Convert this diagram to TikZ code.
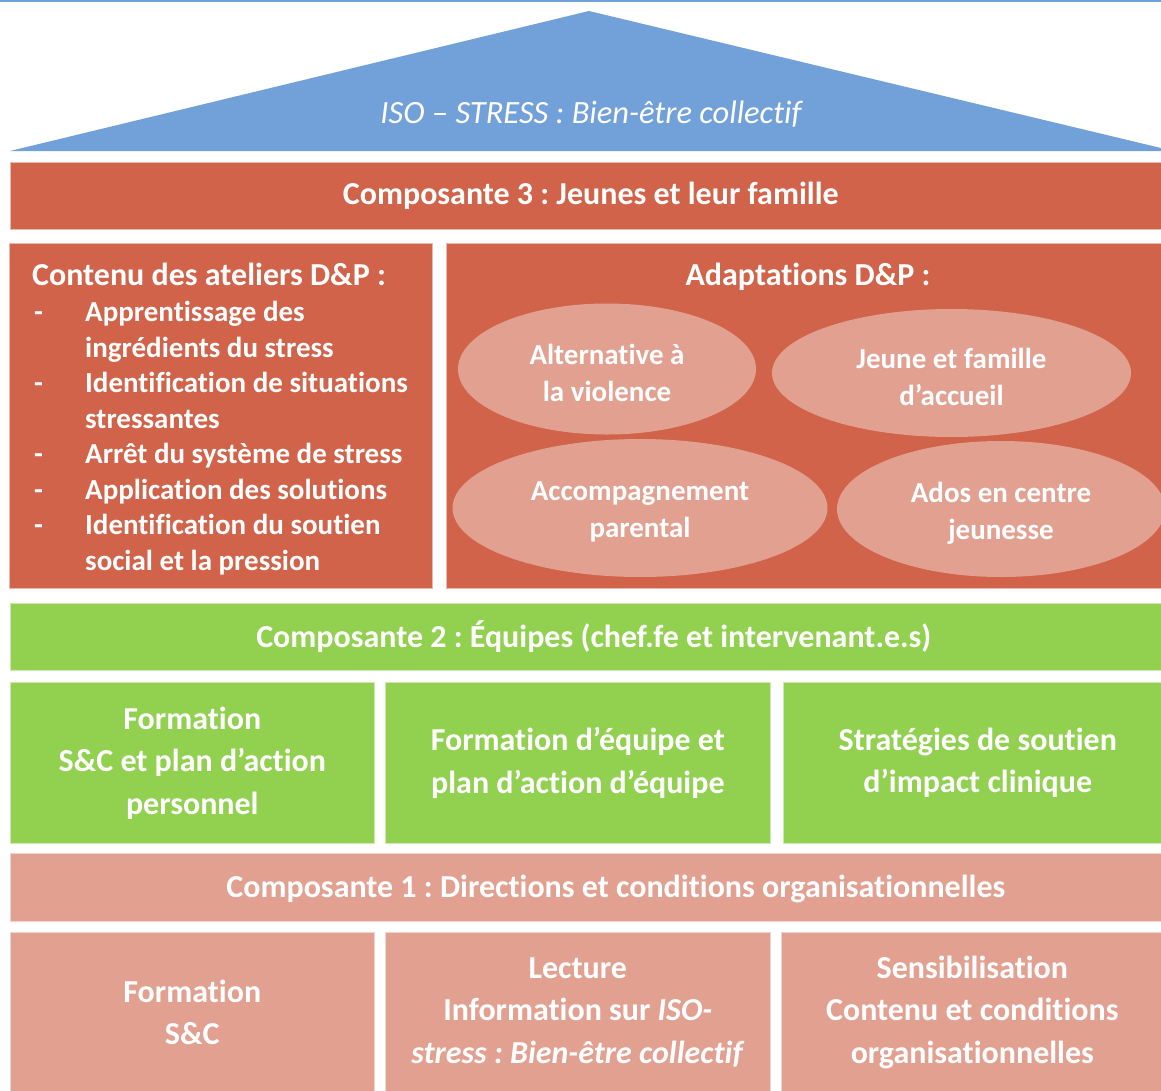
\documentclass[tikz,border=0pt]{standalone}
\usepackage{fontspec}
\setmainfont{Carlito}[Ligatures=NoCommon]
\frenchspacing
\usetikzlibrary{shapes.geometric}
\definecolor{roofblue}{RGB}{114,160,216}
\definecolor{brick}{RGB}{208,99,73}
\definecolor{salmon}{RGB}{226,160,145}
\definecolor{leaf}{RGB}{146,208,80}
\begin{document}
\begin{tikzpicture}[x=1pt,y=-1pt,
  panel/.style={fill=#1,draw=white!55!#1,line width=0.6pt,rectangle,anchor=north west,
    inner sep=0pt,text=white,align=center,font=\bfseries\fontsize{32}{42.5}\selectfont},
  bartext/.style={font=\bfseries\fontsize{32}{38}\selectfont},
  listtxt/.style={text=white,font=\bfseries\fontsize{29}{35.5}\selectfont,anchor=base west,inner sep=0pt},
  heading/.style={listtxt,font=\bfseries\fontsize{32}{38}\selectfont},
  oval/.style={ellipse,fill=salmon,inner sep=0pt},
  ovaltext/.style={inner sep=0pt,text=white,align=center,font=\bfseries\fontsize{29}{37}\selectfont}
]
\useasboundingbox (0,0) rectangle (1161,1090);
\fill[white] (0,0) rectangle (1161,1090);

% top rule and roof
\draw[roofblue,line width=1.5pt] (0,0.75) -- (1161,0.75);
\fill[roofblue] (10,151) -- (589,11) -- (1163,148.5) -- (1163,151) -- cycle;
\node[text=white,inner sep=0pt,font=\itshape\fontsize{32.5}{38}\selectfont] (roof) at (591,114)
  {ISO – STRESS : Bien-être collectif};

% component 3: young people and their families
\node[panel=brick,bartext,minimum width=1161,minimum height=67] (c3) at (10,162)
  {Composante 3 : Jeunes et leur famille};
\node[panel=brick,minimum width=423,minimum height=345] (contenu) at (9,243) {};
\node[panel=brick,minimum width=717,minimum height=345] (adapt) at (446,243) {};

\node[heading] (contitle) at (32,285.5) {Contenu des ateliers D\&P :};
\foreach \y/\t [count=\i] in {321.5/Apprentissage des,357/ingrédients du stress,
    392.5/Identification de situations,428/stressantes,463.5/Arrêt du système de stress,
    499/Application des solutions,534.5/Identification du soutien,570/social et la pression}
  \node[listtxt] (line\i) at (85,\y) {\t};
\foreach \y [count=\i] in {321.5,392.5,463.5,499,534.5}
  \node[listtxt] (dash\i) at (34,\y) {-};

\node[heading,anchor=base] (adtitle) at (808,285.5) {Adaptations D\&P :};
\node[oval,minimum width=298,minimum height=131] (e1) at (607,369) {};
\node[oval,minimum width=359,minimum height=128] (e2) at (951.5,373) {};
\node[oval,minimum width=375,minimum height=138] (e3) at (640,508) {};
\node[oval,minimum width=328,minimum height=136] (e4) at (1001,509) {};
\node[ovaltext] (t1) at ([yshift=-4pt]e1.center) {Alternative à\\la violence};
\node[ovaltext] (t2) at ([yshift=-4pt]e2.center) {Jeune et famille\\d’accueil};
\node[ovaltext] (t3) at ([yshift=-4pt]e3.center) {Accompagnement\\parental};
\node[ovaltext] (t4) at ([yshift=-4pt]e4.center) {Ados en centre\\jeunesse};

% component 2: teams
\node[panel=leaf,bartext,minimum width=1167,minimum height=67] (c2) at (10,603)
  {Composante 2 : Équipes (chef.fe et intervenant.e.s)};
\node[panel=leaf,minimum width=364,minimum height=161] (g1) at (10,682)
  {Formation\\S\&C et plan d’action\\personnel};
\node[panel=leaf,minimum width=385,minimum height=161] (g2) at (385,682)
  {Formation d’équipe et\\plan d’action d’équipe};
\node[panel=leaf,minimum width=389,minimum height=161] (g3) at (783,682)
  {Stratégies de soutien\\d’impact clinique};

% component 1: management and organisational conditions
\node[panel=salmon,bartext,minimum width=1211,minimum height=68,text depth=3pt] (c1) at (10,853)
  {Composante 1 : Directions et conditions organisationnelles};
\node[panel=salmon,minimum width=364,minimum height=160] (s1) at (10,932)
  {Formation\\S\&C};
\node[panel=salmon,minimum width=385,minimum height=160] (s2) at (385,932)
  {Lecture\\Information sur \textit{ISO-}\\\textit{stress : Bien-être collectif}};
\node[panel=salmon,minimum width=382,minimum height=160] (s3) at (781,932)
  {Sensibilisation\\Contenu et conditions\\organisationnelles};
\end{tikzpicture}
\end{document}
